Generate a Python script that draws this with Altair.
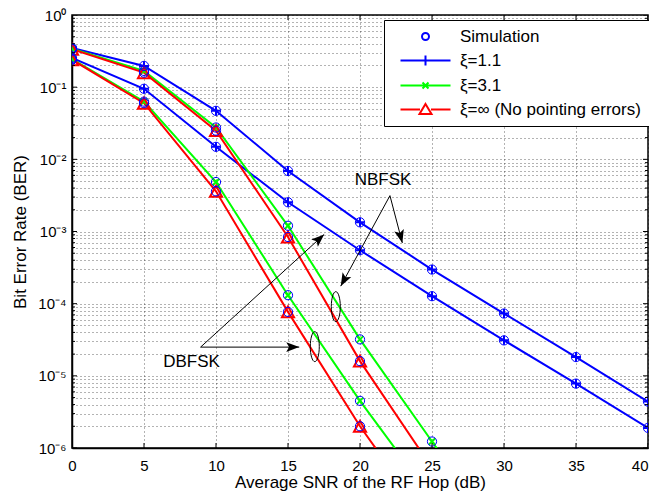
import math
import altair as alt
import pandas as pd

FONT = "Liberation Sans"

# ---------------- data ----------------
snr = [0, 5, 10, 15, 20, 25, 30, 35, 40]

ber_xi11_nbfsk = [0.35, 0.197, 0.047, 0.0069, 0.00134, 2.97e-4, 7.3e-5, 1.82e-5, 4.4e-6]
ber_xi11_dbfsk = [0.254, 0.095, 0.0149, 0.00254, 5.5e-4, 1.27e-4, 3.1e-5, 7.8e-6, 1.9e-6]
ber_xi31_nbfsk = [0.34, 0.168, 0.0276, 0.0012, 3.2e-5, 1.23e-6]
ber_xi31_dbfsk = [0.245, 0.063, 0.00485, 1.31e-4, 4.5e-6]
ber_inf_nbfsk = [0.335, 0.159, 0.025, 8.4e-4, 1.6e-5]
ber_inf_dbfsk = [0.24, 0.06, 0.0036, 7.7e-5, 2.0e-6]

# where each curve continues below the 1e-6 floor (clipped, no marker)
tail_xi31_nbfsk = (30, 4.7e-8)
tail_xi31_dbfsk = (25, 2.0e-7)
tail_inf_nbfsk = (25, 5.3e-7)
tail_inf_dbfsk = (25, 8.0e-8)

xi_keys = ["1.1", "3.1", "inf"]
line_colors = ["#0000ff", "#00ff00", "#ff0000"]

x_ticks = [0, 5, 10, 15, 20, 25, 30, 35, 40]
y_decades = [1e-6, 1e-5, 1e-4, 1e-3, 1e-2, 1e-1, 1]
y_tick_labels = ["10⁻⁶", "10⁻⁵", "10⁻⁴", "10⁻³", "10⁻²", "10⁻¹", "10⁰"]

legend_labels = ["Simulation", "ξ=1.1", "ξ=3.1", "ξ=∞ (No pointing errors)"]
legend_colors = ["#0000ff", "#0000ff", "#00ff00", "#ff0000"]

# annotations
text_labels = ["NBFSK", "DBFSK"]
text_x = [21.6, 8.3]
text_y = [5.2e-3, 1.55e-5]
arrow_x0 = [22.08, 22.08, 8.93, 8.93]
arrow_y0 = [3.14e-3, 3.14e-3, 2.5e-5, 2.5e-5]
arrow_x1 = [22.94, 18.66, 17.51, 15.78]
arrow_y1 = [6.95e-4, 1.75e-4, 9.1e-4, 2.5e-5]
ellipse_x = [18.32, 16.86]
ellipse_y = [9.1e-5, 2.54e-5]

# ---------------- build tables ----------------
W, H = 576, 433
X_MIN, X_MAX = 0, 40
Y_MIN, Y_MAX = 1e-6, 1.0

curves = [
    ("xi11_n", "1.1", ber_xi11_nbfsk, None),
    ("xi11_d", "1.1", ber_xi11_dbfsk, None),
    ("xi31_n", "3.1", ber_xi31_nbfsk, tail_xi31_nbfsk),
    ("xi31_d", "3.1", ber_xi31_dbfsk, tail_xi31_dbfsk),
    ("inf_n", "inf", ber_inf_nbfsk, tail_inf_nbfsk),
    ("inf_d", "inf", ber_inf_dbfsk, tail_inf_dbfsk),
]
rows = []
for name, xi, vals, tail in curves:
    for x, v in zip(snr, vals):
        rows.append({"curve": name, "xi": xi, "x": x, "ber": v, "sim": True})
    if tail is not None:
        rows.append({"curve": name, "xi": xi, "x": tail[0], "ber": tail[1], "sim": False})
df = pd.DataFrame(rows)
sim_df = df[df["sim"]]

y_values = []
for e in range(-6, 0):
    for m in range(1, 10):
        y_values.append(m * 10.0 ** e)
y_values.append(1.0)

lg = "log(datum.value)/LN10"
label_arr = "[" + ",".join("'" + s + "'" for s in y_tick_labels) + "]"
label_expr = f"abs({lg} - round({lg})) < 0.001 ? {label_arr}[round({lg}) + 6] : ''"

x_enc = alt.X(
    "x:Q",
    scale=alt.Scale(domain=[X_MIN, X_MAX], nice=False),
    axis=alt.Axis(
        values=x_ticks, grid=True, gridDash=[1, 3], gridColor="black", gridOpacity=0.6,
        ticks=False, labelPadding=10, labelFont=FONT, labelFontSize=15, labelColor="black",
        title="Average SNR of the RF Hop (dB)", titleFont=FONT, titleFontSize=17,
        titleFontWeight="normal", titleColor="black", titlePadding=1,
        domainColor="black",
        labelAlign={"condition": {"test": "datum.value == 40", "value": "right"}, "value": "center"},
    ),
)
y_enc = alt.Y(
    "ber:Q",
    scale=alt.Scale(type="log", domain=[Y_MIN, Y_MAX], nice=False),
    axis=alt.Axis(
        values=y_values, labelExpr=label_expr, grid=True, gridDash=[1, 3],
        gridColor="black", gridOpacity=0.6, ticks=False, labelPadding=6,
        labelFont=FONT, labelFontSize=15, labelColor="black",
        title="Bit Error Rate (BER)", titleFont=FONT, titleFontSize=17,
        titleFontWeight="normal", titleColor="black", titlePadding=8,
        domainColor="black",
    ),
)

lines = alt.Chart(df).mark_line(strokeWidth=2, clip=True).encode(
    x=x_enc, y=y_enc,
    stroke=alt.Stroke("xi:N", scale=alt.Scale(domain=xi_keys, range=line_colors), legend=None),
    detail="curve:N",
    order="x:Q",
)

PLUS = "M-1,0H1M0,-1V1"
XMARK = "M-1,-1L1,1M-1,1L1,-1"
TRI = "M0,-1L1.1,1L-1.1,1Z"

m_blue = alt.Chart(sim_df[sim_df["xi"] == "1.1"]).mark_point(
    shape=PLUS, filled=False, color="#0000ff", strokeWidth=2, size=81, opacity=1, clip=True
).encode(x=x_enc, y=y_enc)
m_green = alt.Chart(sim_df[sim_df["xi"] == "3.1"]).mark_point(
    shape=XMARK, filled=False, color="#00ff00", strokeWidth=2, size=42, opacity=1, clip=True
).encode(x=x_enc, y=y_enc)
m_red = alt.Chart(sim_df[sim_df["xi"] == "inf"]).mark_point(
    shape=TRI, filled=False, color="#ff0000", strokeWidth=2, size=121, opacity=1, clip=True
).encode(x=x_enc, y=y_enc)
m_sim = alt.Chart(sim_df).mark_point(
    shape="circle", filled=False, color="#0000ff", strokeWidth=1, size=85, opacity=1, clip=True
).encode(x=x_enc, y=y_enc)

# inward ticks on all four sides (tick marks centred on the frame, outer half clipped)
xt_rows = [{"x": v, "ber": b} for v in x_ticks for b in (Y_MIN, Y_MAX)]
xticks = alt.Chart(pd.DataFrame(xt_rows)).mark_tick(
    orient="vertical", size=10, thickness=1, color="black", opacity=1, clip=True
).encode(x=x_enc, y=y_enc)
yt_rows = []
for v in y_values:
    major = abs(math.log10(v) - round(math.log10(v))) < 1e-3
    for xe in (X_MIN, X_MAX):
        yt_rows.append({"x": xe, "ber": v, "major": major})
yt_df = pd.DataFrame(yt_rows)
yticks_major = alt.Chart(yt_df[yt_df["major"]]).mark_tick(
    orient="horizontal", size=10, thickness=1, color="black", opacity=1, clip=True
).encode(x=x_enc, y=y_enc)
yticks_minor = alt.Chart(yt_df[~yt_df["major"]]).mark_tick(
    orient="horizontal", size=6, thickness=1, color="black", opacity=1, clip=True
).encode(x=x_enc, y=y_enc)

# annotations
txt_df = pd.DataFrame({"label": text_labels, "x": text_x, "ber": text_y})
texts = alt.Chart(txt_df).mark_text(
    font=FONT, fontSize=17, color="black", align="center", baseline="middle"
).encode(x=x_enc, y=y_enc, text="label:N")


def to_px(x, y):
    return x / X_MAX * W, -math.log10(y) / 6 * H


angles = []
for a, b, c, d in zip(arrow_x0, arrow_y0, arrow_x1, arrow_y1):
    p0 = to_px(a, b)
    p1 = to_px(c, d)
    angles.append(math.degrees(math.atan2(p1[0] - p0[0], -(p1[1] - p0[1]))) % 360)

arr_df = pd.DataFrame({"x": arrow_x0, "ber": arrow_y0, "x2": arrow_x1, "ber2": arrow_y1})
shafts = alt.Chart(arr_df).mark_rule(color="black", strokeWidth=1).encode(
    x=x_enc, y=y_enc, x2="x2:Q", y2="ber2:Q"
)
head_df = pd.DataFrame({"x": arrow_x1, "ber": arrow_y1, "angle": angles})
ARROW = "M0,0L-0.38,1L0,0.78L0.38,1Z"
heads = alt.Chart(head_df).mark_point(
    shape=ARROW, filled=True, color="black", size=676, opacity=1
).encode(x=x_enc, y=y_enc, angle=alt.Angle("angle:Q", scale=None))

ELL = "M0,-1A0.3,1 0 1,1 0,1A0.3,1 0 1,1 0,-1Z"
ell_df = pd.DataFrame({"x": ellipse_x, "ber": ellipse_y})
ellipses = alt.Chart(ell_df).mark_point(
    shape=ELL, filled=False, color="black", strokeWidth=1, size=900, opacity=1
).encode(x=x_enc, y=y_enc)

# legend (symbols are line+marker paths)
CIRC = "M0.7,0A0.7,0.7 0 1,1 -0.7,0A0.7,0.7 0 1,1 0.7,0Z"
L_PLUS = "M-5,0H5M0,-1V1"
L_X = "M-5,0H5M-0.6,-0.6L0.6,0.6M-0.6,0.6L0.6,-0.6"
L_TRI = "M-5,0H-1.1M1.1,0H5M0,-1.1L1.2,0.9L-1.2,0.9Z"
legend_paths = [CIRC, L_PLUS, L_X, L_TRI]

leg = alt.Legend(
    title=None, orient="none", legendX=312, legendY=5,
    strokeColor="black", fillColor="white", padding=8,
    labelFont=FONT, labelFontSize=17, labelColor="black", labelLimit=0,
    symbolSize=100, symbolStrokeWidth=2, symbolOffset=25, labelOffset=26,
    rowPadding=6, symbolFillColor="transparent", cornerRadius=0,
)
leg_df = pd.DataFrame({"entry": legend_labels, "x": [-10] * 4, "ber": [0.01] * 4})
legend_layer = alt.Chart(leg_df).mark_point(
    filled=False, strokeWidth=2, opacity=1, clip=True
).encode(
    x=x_enc, y=y_enc,
    color=alt.Color("entry:N", scale=alt.Scale(domain=legend_labels, range=legend_colors), legend=leg),
    shape=alt.Shape("entry:N", scale=alt.Scale(domain=legend_labels, range=legend_paths), legend=leg),
)

chart = alt.layer(
    lines, m_blue, m_green, m_red, m_sim, xticks, yticks_major, yticks_minor,
    shafts, heads, ellipses, texts, legend_layer
).properties(
    width=W, height=H,
    autosize=alt.AutoSizeParams(type="none"),
    padding={"left": 64, "top": 7, "right": 1, "bottom": 45},
).configure_view(stroke="black", strokeWidth=1.5).configure_axis(domainWidth=1.5)

chart.save("out.html", embed_options={"renderer": "svg", "actions": False})
